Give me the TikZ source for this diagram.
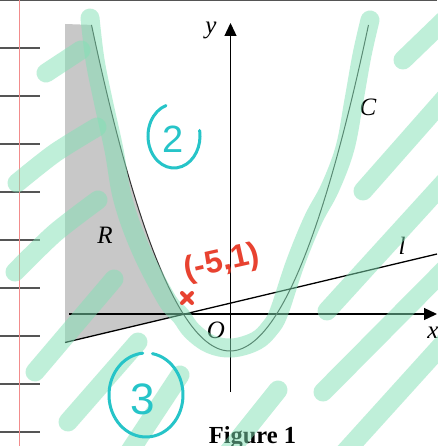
\documentclass[tikz,border=0pt]{standalone}
\usepackage{fontspec}
\setmainfont{Liberation Serif}
\newfontfamily\handfont{Liberation Sans}
\usetikzlibrary{arrows.meta}
\definecolor{hlgreen}{RGB}{129,225,181}
\definecolor{tealink}{RGB}{38,196,200}
\definecolor{redink}{RGB}{232,66,48}
\definecolor{shadegray}{RGB}{200,200,200}
\definecolor{tickgray}{RGB}{85,85,85}
\definecolor{marginred}{RGB}{242,140,140}
\begin{document}
\begin{tikzpicture}[x=1pt,y=-1pt,
  hl/.style={draw=hlgreen, line width=19pt, line cap=round, line join=round, opacity=0.5},
  axisarrow/.style={line width=1.3pt, -{Triangle[length=13pt,width=12pt]}},
  lbl/.style={inner sep=0pt, font=\fontsize{25}{30}\selectfont\itshape},
  ink/.style={line width=3pt, line cap=round, draw=tealink},
  redx/.style={line width=4pt, line cap=round, draw=redink}
]
\fill[white] (0,0) rectangle (437,446);
\path[use as bounding box] (0,0) rectangle (437,446);

% notebook ruler
\draw[tickgray, line width=1.5pt] (0,0.75) -- (437,0.75);
\foreach \ty in {48,96,...,432} \draw[tickgray, line width=1.1pt] (0,\ty) -- (40,\ty);
\draw[marginred, line width=1pt] (19.5,0) -- (19.5,446);

% shaded region R
\fill[shadegray] (65,24) -- plot[domain=-13.85:-4.65, samples=40] ({230+10*\x},{351-1.7*(\x)^2}) -- (65,342.5) -- cycle;

% axes
\coordinate (xs) at (69,314);
\coordinate (xe) at (437,314);
\coordinate (ys) at (230.5,392);
\coordinate (ye) at (230.5,23);
\draw[axisarrow] (xs) -- (xe);
\draw[axisarrow] (ys) -- (ye);

% curve C
\draw[line width=1pt, black!80] plot[domain=-13.85:13.85, samples=100] ({230+10*\x},{351-1.7*(\x)^2});

% line l
\coordinate (ls) at (65,342.5);
\coordinate (le) at (437,254);
\draw[line width=1.3pt] (ls) -- (le);

% labels
\node[lbl] (ylab) at (211,30) {y};
\node[lbl] (clab) at (368,107) {C};
\node[lbl] (rlab) at (105,235) {R};
\node[lbl] (llab) at (402,246) {l};
\node[lbl] (olab) at (216,330) {O};
\node[lbl] (xlab) at (433,333) {x};
\node[inner sep=0pt, anchor=base, font=\fontsize{24.5}{30}\selectfont\bfseries] (fig) at (252.5,443) {Figure 1};

% highlighter strokes
\draw[hl] plot[smooth, tension=0.6] coordinates {(90,18) (95,60) (103,100) (114,150) (123,200) (141,250) (167,300) (181,316) (192,331) (210,344) (232,348) (256,341) (270,328) (279,312) (295,264) (313,220) (330,188) (345,148) (354,100) (362,55) (370,20)};
\draw[hl] (46,73) -- (81,50);
\draw[hl] plot[smooth] coordinates {(17,183) (55,153) (97,127)};
\draw[hl] plot[smooth] coordinates {(15,272) (55,233) (98,200)};
\draw[hl] (35,372) -- (114,279);
\draw[hl] (68,422) -- (138,342);
\draw[hl] (124,460) -- (180,375);
\draw[hl] (222,460) -- (278,390);
\draw[hl] (323,392) -- (460,254);
\draw[hl] (336,462) -- (460,325);
\draw[hl] (327,311) -- (460,165);
\draw[hl] (363,191) -- (460,81);
\draw[hl] (403,60) -- (460,5);

% teal annotations
\draw[ink] (174,136) ++(-108:26 and 32) arc[start angle=-108, end angle=-370, x radius=26, y radius=32];
\node[text=tealink, font=\handfont\fontsize{38}{40}\selectfont, inner sep=0pt] (two) at (173,139) {2};
\draw[ink] (146,395) ++(-80:37 and 42) arc[start angle=-80, end angle=265, x radius=37, y radius=42];
\node[text=tealink, font=\handfont\fontsize{44}{46}\selectfont, inner sep=0pt] (three) at (143,399) {3};

% red annotations
\node[text=redink, font=\handfont\bfseries\fontsize{32}{34}\selectfont, rotate=12.6, inner sep=0pt] (pt) at (222,263) {(-5,1)};
\draw[redx] (182,293) -- (192,303);
\draw[redx] (192,293) -- (182,303);
\end{tikzpicture}
\end{document}
